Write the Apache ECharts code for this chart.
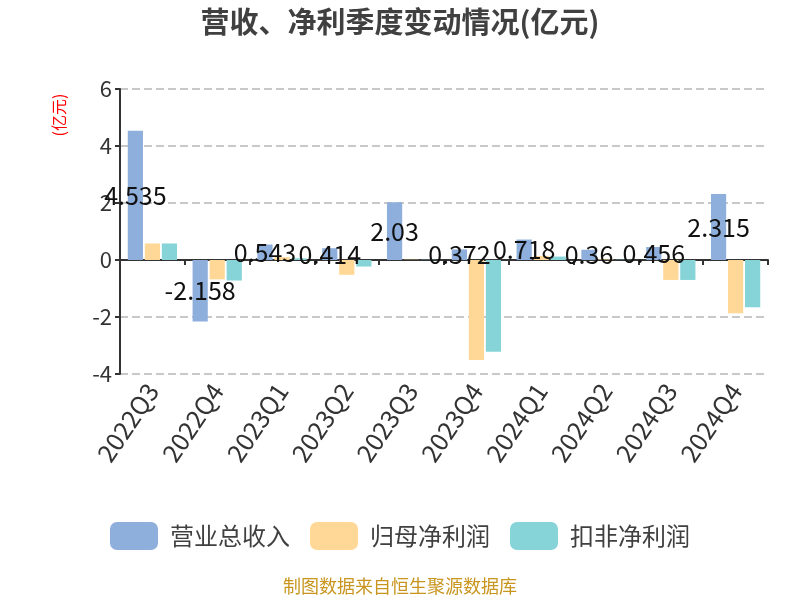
<!DOCTYPE html>
<html><head><meta charset="utf-8">
<script src="https://cdn.jsdelivr.net/npm/echarts@6/dist/echarts.min.js"></script>
<style>html,body{margin:0;padding:0;background:#fff}#c{width:800px;height:600px}</style>
</head><body><div id="c"></div>
<script>
var categories = ['2022Q3','2022Q4','2023Q1','2023Q2','2023Q3','2023Q4','2024Q1','2024Q2','2024Q3','2024Q4'];
var revenue = [4.535, -2.158, 0.543, 0.414, 2.03, 0.372, 0.718, 0.36, 0.456, 2.315];
var netProfit = [0.58, -0.68, 0.10, -0.52, 0.01, -3.51, 0.14, 0.02, -0.70, -1.87];
var deductedProfit = [0.58, -0.72, 0.06, -0.23, 0.01, -3.22, 0.12, 0.01, -0.70, -1.66];
var seriesNames = ['营业总收入','归母净利润','扣非净利润'];
var yTicks = {min: -4, max: 6, interval: 2};

var chart = echarts.init(document.getElementById('c'));
var font = '"Noto Sans CJK SC","Noto Sans",sans-serif';
chart.setOption({
  textStyle: {fontFamily: font},
  title: {text: '营收、净利季度变动情况(亿元)', left: 'center', top: 2,
    textStyle: {fontSize: 29, fontWeight: 'bold', color: '#404040', fontFamily: font}},
  graphic: [
    {type: 'text', left: 'center', top: 577,
      style: {text: '制图数据来自恒生聚源数据库', fill: '#c8951e', fontSize: 18, fontFamily: font}},
    {type: 'text', x: 59, y: 115, rotation: Math.PI / 2,
      style: {text: '(亿元)', fill: 'red', fontSize: 16, fontFamily: font, align: 'center', verticalAlign: 'middle'}}
  ],
  legend: {top: 517, left: 'center', itemWidth: 48, itemHeight: 28, itemGap: 20,
    textStyle: {fontSize: 24, color: '#404040', padding: [0, 0, 0, 7]}, data: seriesNames},
  grid: {left: 120, right: 32, top: 89, bottom: 226, containLabel: false},
  xAxis: {type: 'category', data: categories,
    axisLine: {lineStyle: {color: '#333', width: 2}},
    axisTick: {show: true, lineStyle: {color: '#333', width: 2}},
    axisLabel: {rotate: 56, fontSize: 25, color: '#333', margin: 12, interval: 0}},
  yAxis: {type: 'value', min: yTicks.min, max: yTicks.max, interval: yTicks.interval,
    axisLine: {show: true, lineStyle: {color: '#333', width: 2}},
    axisTick: {show: true, lineStyle: {color: '#333', width: 2}},
    axisLabel: {fontSize: 22, color: '#333'},
    splitLine: {lineStyle: {type: 'dashed', color: '#c8c8c8', width: 2}}},
  series: [
    {name: seriesNames[0], type: 'bar', data: revenue, barGap: '12%', barCategoryGap: '24%',
      itemStyle: {color: '#8eaedb'},
      label: {show: true, position: 'inside', color: '#111', fontSize: 25}},
    {name: seriesNames[1], type: 'bar', data: netProfit, itemStyle: {color: '#ffd898'}},
    {name: seriesNames[2], type: 'bar', data: deductedProfit, itemStyle: {color: '#86d4d8'}}
  ]
});
</script></body></html>
